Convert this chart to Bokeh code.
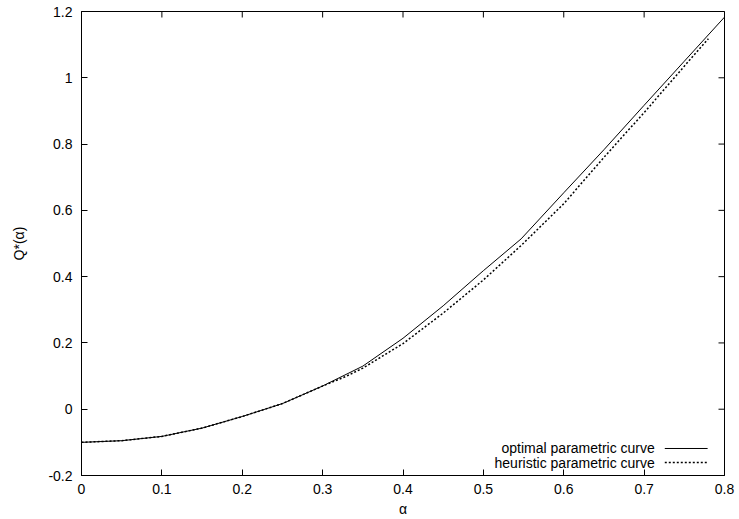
import math
from bokeh.plotting import figure
from bokeh.models import LinearAxis, FixedTicker, Label, Arrow
from bokeh.embed import file_html
from bokeh.resources import INLINE

# alpha values and the two Q*(alpha) curves
alpha = [0.0, 0.05, 0.1, 0.15, 0.2, 0.25, 0.3, 0.35, 0.4, 0.45, 0.5, 0.547,
         0.6, 0.65, 0.7, 0.75, 0.8]
q_optimal = [-0.100, -0.095, -0.082, -0.057, -0.022, 0.017, 0.070, 0.130,
             0.214, 0.312, 0.418, 0.514, 0.653, 0.783, 0.917, 1.050, 1.183]

alpha_heur = [0.0, 0.05, 0.1, 0.15, 0.2, 0.25, 0.3, 0.33, 0.35, 0.4, 0.45,
              0.5, 0.547, 0.6, 0.65, 0.7, 0.75, 0.78]
q_heuristic = [-0.100, -0.095, -0.082, -0.057, -0.022, 0.017, 0.070, 0.100,
               0.124, 0.198, 0.290, 0.390, 0.494, 0.620, 0.760, 0.895,
               1.035, 1.118]

x_ticks = [0, 0.1, 0.2, 0.3, 0.4, 0.5, 0.6, 0.7, 0.8]
y_ticks = [-0.2, 0, 0.2, 0.4, 0.6, 0.8, 1, 1.2]
x_tick_labels = {0: "0", 0.1: "0.1", 0.2: "0.2", 0.3: "0.3", 0.4: "0.4",
                 0.5: "0.5", 0.6: "0.6", 0.7: "0.7", 0.8: "0.8"}
y_tick_labels = {-0.2: "-0.2", 0: "0", 0.2: "0.2", 0.4: "0.4", 0.6: "0.6",
                 0.8: "0.8", 1: "1", 1.2: "1.2"}

x_title = "α"
y_title = "Q*(α)"
legend_labels = ["optimal parametric curve", "heuristic parametric curve"]

X_MIN, X_MAX = 0, 0.8
Y_MIN, Y_MAX = -0.2, 1.2

FONT = "Liberation Sans"
FS = "14px"
DOTTED = "2 2"

p = figure(width=739, height=519, x_range=(X_MIN, X_MAX),
           y_range=(Y_MIN, Y_MAX),
           output_backend="svg", toolbar_location=None,
           min_border_left=81, min_border_right=15, min_border_top=11,
           min_border_bottom=44, x_axis_location=None, y_axis_location=None)
p.grid.visible = False
p.outline_line_color = "black"
p.outline_line_alpha = 1.0
p.outline_line_width = 1
p.background_fill_color = "white"
p.border_fill_color = "white"


def style_axis(ax):
    ax.major_tick_in = 6
    ax.major_tick_out = 0
    ax.minor_tick_in = 0
    ax.minor_tick_out = 0
    ax.axis_line_color = "black"
    ax.major_tick_line_color = "black"
    ax.major_label_text_font = FONT
    ax.major_label_text_font_size = FS
    ax.major_label_text_color = "black"
    ax.axis_label_text_font = FONT
    ax.axis_label_text_font_style = "normal"
    ax.axis_label_text_font_size = FS
    ax.axis_label_text_color = "black"


xb = LinearAxis(ticker=FixedTicker(ticks=x_ticks), axis_label=x_title,
                major_label_overrides=x_tick_labels)
style_axis(xb)
xb.major_label_standoff = 8
xb.axis_label_standoff = 4
p.add_layout(xb, "below")

yl = LinearAxis(ticker=FixedTicker(ticks=y_ticks), axis_label=y_title,
                major_label_overrides=y_tick_labels)
style_axis(yl)
yl.major_label_standoff = 9
yl.axis_label_standoff = 18
p.add_layout(yl, "left")

# mirrored tick marks on the top and right edges (inner half stays visible)
p.scatter(x_ticks, [Y_MAX] * len(x_ticks), marker="dash", size=12,
          angle=math.pi / 2, line_color="black", line_width=1)
p.scatter([X_MAX] * len(y_ticks), y_ticks, marker="dash", size=12,
          angle=0, line_color="black", line_width=1)

p.line(alpha, q_optimal, line_color="black", line_width=1)
p.line(alpha_heur, q_heuristic, line_color="black", line_width=1.5,
       line_dash=DOTTED)

# key in the lower right corner: text right-aligned, sample line after it
key_text_x = 0.7133
key_line_x0, key_line_x1 = 0.7257, 0.779
key_rows = [-0.1185, -0.161]
for i, (lab, yrow) in enumerate(zip(legend_labels, key_rows)):
    p.add_layout(Label(x=key_text_x, y=yrow, text=lab, text_align="right",
                       text_baseline="middle", text_font=FONT,
                       text_font_size=FS, text_color="black"))
    p.add_layout(Arrow(end=None, x_start=key_line_x0, y_start=yrow,
                       x_end=key_line_x1, y_end=yrow, line_color="black",
                       line_width=1 if i == 0 else 1.5,
                       line_dash="solid" if i == 0 else DOTTED))

open("out.html", "w").write(file_html(p, INLINE))
